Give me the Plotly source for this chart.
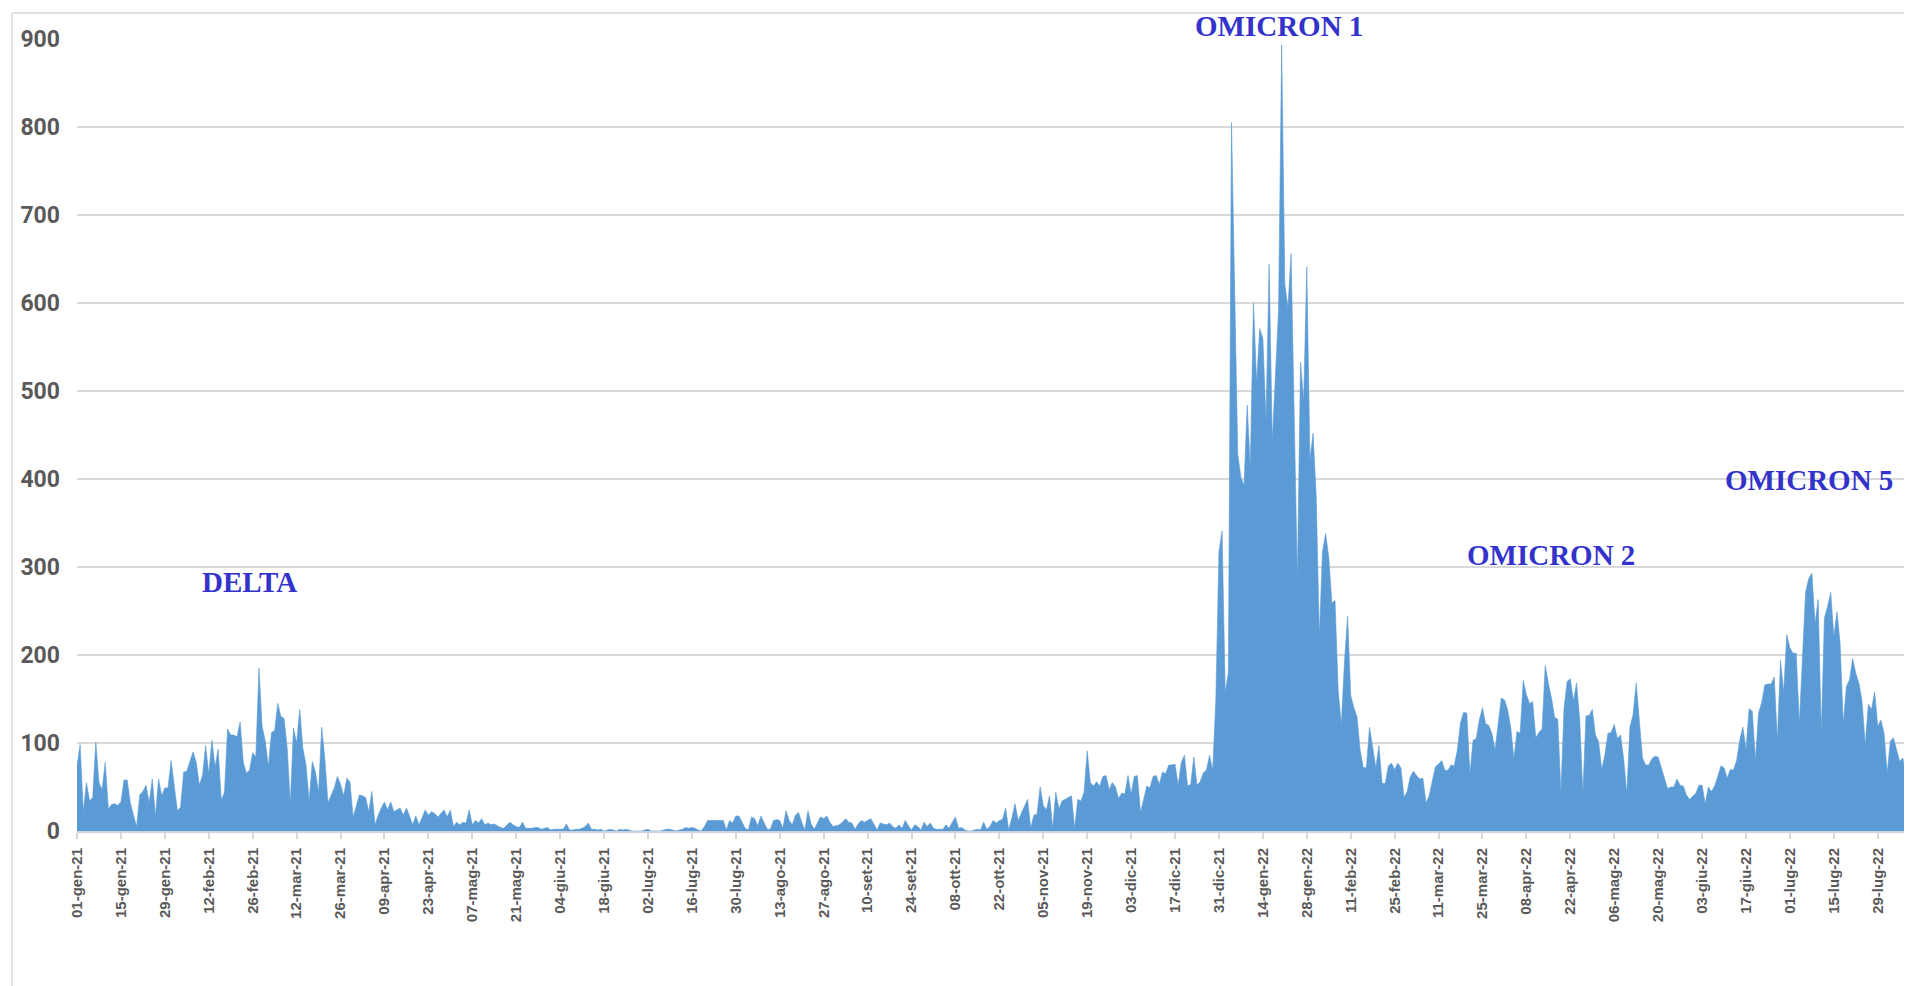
import pandas as pd
import plotly.graph_objects as go

# ---- daily values (one list per month) ----
gen21 = [74, 98, 22, 55, 34, 38, 101, 55, 47, 78, 25, 30, 31, 29, 33, 58, 58, 32, 18, 5,
         41, 45, 52, 32, 59, 17, 59, 40, 49, 49, 80]
feb21 = [51, 23, 27, 67, 68, 78, 90, 78, 52, 63, 97, 65, 103, 73, 93, 35, 44, 116, 109, 109,
         107, 124, 78, 66, 69, 89, 84, 185]
mar21 = [119, 102, 73, 112, 114, 145, 130, 128, 94, 31, 117, 100, 138, 94, 75, 34, 79, 67, 44, 118,
         82, 32, 40, 49, 62, 53, 40, 60, 56, 16, 28]
apr21 = [41, 40, 38, 22, 45, 7, 18, 26, 33, 24, 33, 22, 24, 26, 18, 26, 17, 7, 17, 7,
         15, 24, 18, 22, 20, 16, 20, 24, 16, 24]
mag21 = [5, 10, 7, 10, 9, 24, 7, 12, 9, 14, 7, 9, 7, 8, 6, 4, 3, 6, 10, 7,
         5, 4, 10, 3, 3, 3, 4, 4, 2, 3, 4]
giu21 = [1, 2, 2, 2, 2, 8, 1, 1, 2, 2, 3, 5, 9, 2, 2, 1, 2, 0, 1, 2,
         1, 0, 2, 1, 2, 1, 0, 0, 0, 0]
lug21 = [1, 2, 0, 0, 0, 0, 1, 2, 2, 1, 0, 1, 2, 4, 3, 4, 3, 1, 0, 5,
         12, 12, 12, 12, 12, 12, 1, 12, 9, 17, 17]
ago21 = [10, 3, 1, 16, 14, 6, 17, 10, 2, 2, 12, 13, 12, 3, 23, 12, 7, 18, 21, 10,
         1, 23, 8, 2, 9, 16, 14, 17, 10, 5, 6]
set21 = [7, 10, 14, 10, 9, 2, 8, 12, 10, 12, 14, 8, 1, 9, 8, 7, 9, 5, 3, 7,
         3, 12, 6, 1, 7, 5, 1, 10, 5, 9]
ott21 = [3, 2, 2, 2, 7, 3, 10, 16, 3, 4, 1, 0, 0, 1, 2, 1, 10, 2, 5, 12,
         9, 12, 13, 26, 1, 15, 31, 12, 20, 26, 36]
nov21 = [3, 18, 19, 50, 29, 24, 40, 3, 44, 25, 34, 36, 38, 40, 3, 36, 34, 44, 91, 55,
         51, 56, 51, 62, 63, 47, 55, 50, 37, 43]
dic21 = [42, 63, 42, 62, 63, 21, 36, 51, 49, 62, 63, 53, 67, 65, 75, 75, 76, 52, 78, 86,
         51, 53, 84, 52, 56, 66, 69, 86, 69, 148, 317]
gen22 = [341, 157, 180, 805, 620, 428, 402, 393, 484, 414, 600, 510, 571, 560, 466, 644, 443, 522, 592, 893,
         621, 595, 656, 470, 285, 533, 489, 641, 422, 452, 381]
feb22 = [221, 317, 338, 311, 259, 262, 160, 121, 192, 244, 154, 140, 130, 92, 72, 72, 118, 95, 72, 97,
         54, 54, 74, 77, 70, 77, 72, 38]
mar22 = [45, 62, 68, 63, 59, 60, 32, 40, 57, 73, 76, 80, 69, 69, 75, 74, 92, 123, 135, 134,
         65, 103, 105, 126, 140, 122, 120, 111, 92, 120, 151]
apr22 = [149, 138, 118, 82, 113, 111, 171, 155, 145, 147, 106, 112, 116, 188, 168, 151, 129, 127, 44, 140,
         170, 173, 148, 168, 126, 42, 131, 131, 138, 109]
mag22 = [102, 70, 86, 111, 112, 121, 105, 109, 82, 42, 118, 132, 168, 128, 83, 75, 75, 82, 85, 84,
         71, 58, 48, 50, 50, 59, 52, 51, 41, 36, 40]
giu22 = [43, 52, 52, 31, 50, 45, 51, 62, 74, 72, 60, 70, 69, 80, 103, 118, 93, 139, 136, 81,
         134, 146, 166, 167, 167, 175, 103, 194, 158, 223]
lug22 = [208, 202, 202, 122, 206, 272, 287, 293, 236, 263, 111, 242, 255, 271, 221, 249, 213, 122, 164, 172,
         196, 179, 168, 147, 98, 144, 138, 158, 119, 126, 111]
ago22 = [66, 102, 106, 92, 79, 83, 62]

start_date = "2021-01-01"

tick_labels = [
    "01-gen-21", "15-gen-21", "29-gen-21", "12-feb-21", "26-feb-21", "12-mar-21", "26-mar-21",
    "09-apr-21", "23-apr-21", "07-mag-21", "21-mag-21", "04-giu-21", "18-giu-21", "02-lug-21",
    "16-lug-21", "30-lug-21", "13-ago-21", "27-ago-21", "10-set-21", "24-set-21", "08-ott-21",
    "22-ott-21", "05-nov-21", "19-nov-21", "03-dic-21", "17-dic-21", "31-dic-21", "14-gen-22",
    "28-gen-22", "11-feb-22", "25-feb-22", "11-mar-22", "25-mar-22", "08-apr-22", "22-apr-22",
    "06-mag-22", "20-mag-22", "03-giu-22", "17-giu-22", "01-lug-22", "15-lug-22", "29-lug-22",
]

y_ticks = [0, 100, 200, 300, 400, 500, 600, 700, 800, 900]
y_max = 900

labels_text = ["DELTA", "OMICRON 1", "OMICRON 2", "OMICRON 5"]
labels_date = ["2021-02-25", "2022-01-19", "2022-04-16", "2022-07-07"]
labels_y = [283, 915, 314, 399]

# ---- build ----
values = (gen21 + feb21 + mar21 + apr21 + mag21 + giu21 + lug21 + ago21 + set21 + ott21 + nov21 + dic21
          + gen22 + feb22 + mar22 + apr22 + mag22 + giu22 + lug22 + ago22)
dates = pd.date_range(start_date, periods=len(values), freq="D")

mesi = {"gen": 1, "feb": 2, "mar": 3, "apr": 4, "mag": 5, "giu": 6,
        "lug": 7, "ago": 8, "set": 9, "ott": 10, "nov": 11, "dic": 12}


def parse_it(lbl):
    d, m, y = lbl.split("-")
    return pd.Timestamp(year=2000 + int(y), month=mesi[m], day=int(d))


tick_vals = [parse_it(t) for t in tick_labels]

fig = go.Figure()
fig.add_trace(go.Scatter(
    x=dates, y=values, mode="lines", fill="tozeroy",
    line=dict(color="#5B9BD5", width=0.6), fillcolor="#5B9BD5",
    hoverinfo="x+y", showlegend=False,
))

for txt, d, yv in zip(labels_text, labels_date, labels_y):
    fig.add_annotation(
        x=d, y=yv / y_max, xref="x", yref="paper", text=txt, showarrow=False,
        font=dict(family="Liberation Serif, Times New Roman, serif", size=29,
                  color="#3333CC", weight="bold"),
        xanchor="center", yanchor="middle",
    )

# the page body adds an 8px offset, so the figure is 8px smaller and margins shifted
fig.update_layout(
    width=1904, height=978,
    margin=dict(l=69, r=6, t=31, b=155, autoexpand=False),
    paper_bgcolor="white", plot_bgcolor="white",
    xaxis=dict(
        type="date", automargin=False,
        range=[dates[0], dates[-1]],
        tickvals=tick_vals, ticktext=tick_labels, tickangle=-90,
        tickfont=dict(family="Liberation Sans, Arial, sans-serif", size=15,
                      color="#595959", weight="bold"),
        ticks="outside", ticklen=6, tickcolor="#D9D9D9", tickwidth=1.5,
        showline=True, linecolor="#C9D3DF", linewidth=2,
        showgrid=False, zeroline=False,
        ticklabelstandoff=3,
    ),
    yaxis=dict(
        range=[0, y_max], tickvals=y_ticks, automargin=False,
        tickfont=dict(family="Roboto, Liberation Sans, sans-serif",
                      size=23, color="#595959", weight="bold"),
        showgrid=True, gridcolor="#D9D9D9", gridwidth=1.5,
        zeroline=False, showline=False, ticks="",
        ticklabelstandoff=16,
    ),
    shapes=[
        dict(type="line", xref="paper", yref="paper",
             x0=-0.0355, x1=1.05, y0=1.0328, y1=1.0328,
             line=dict(color="#D9D9D9", width=1.5)),
        dict(type="line", xref="paper", yref="paper",
             x0=-0.0355, x1=-0.0355, y0=1.0328, y1=-0.2,
             line=dict(color="#D9D9D9", width=1.5)),
    ],
)

fig.write_html("out.html")
